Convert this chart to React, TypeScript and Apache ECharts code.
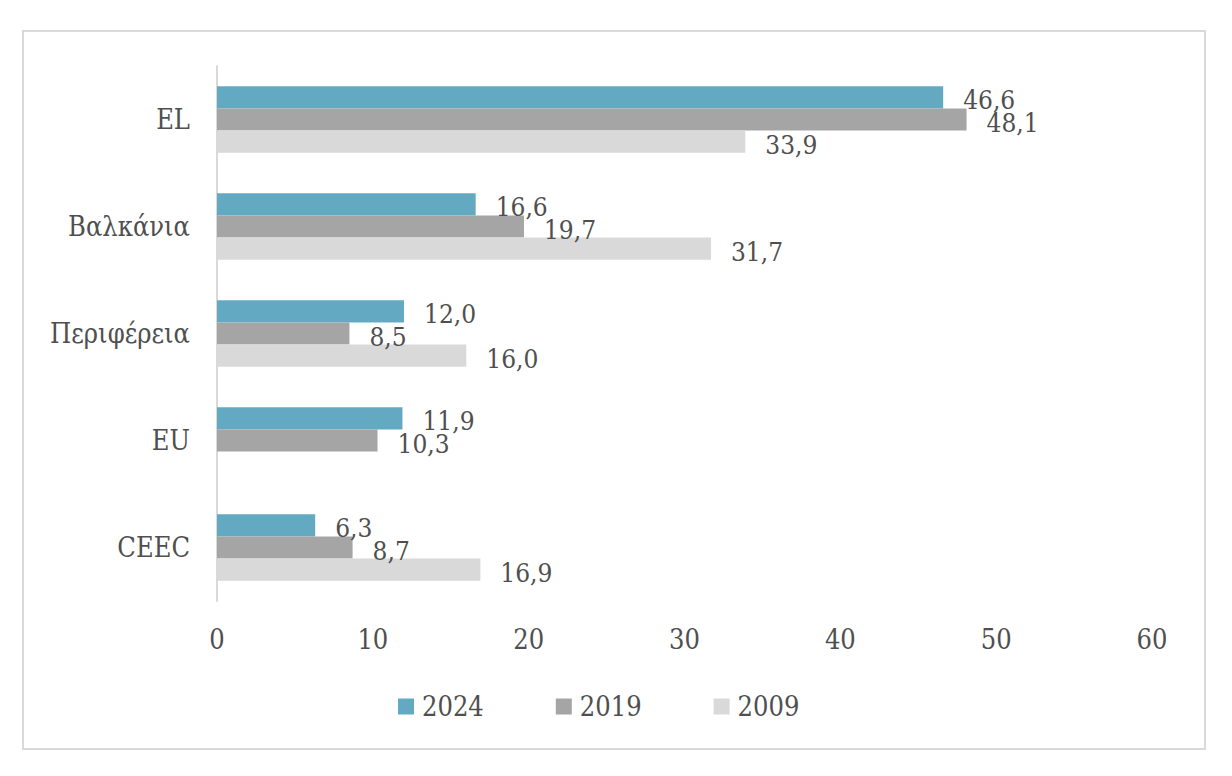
import React, { useEffect, useRef } from "react";
import * as echarts from "echarts";

const categories = ["EL", "Βαλκάνια", "Περιφέρεια", "EU", "CEEC"];
const seriesNames = ["2024", "2019", "2009"];
const values2024 = [46.6, 16.6, 12.0, 11.9, 6.3];
const values2019 = [48.1, 19.7, 8.5, 10.3, 8.7];
const values2009: (number | null)[] = [33.9, 31.7, 16.0, null, 16.9];
const colors = ["#63a9c2", "#a5a5a5", "#d9d9d9"];
const xTicks = { min: 0, max: 60, interval: 10 };

const FONT = "'DejaVu Serif Condensed', 'DejaVu Serif', serif";
const TEXT = "#4f4f4f";

export default function App() {
  const ref = useRef<HTMLDivElement>(null);
  useEffect(() => {
    document.body.style.margin = "0";
    const chart = echarts.init(ref.current!, null, { renderer: "svg" });
    const data = [values2024, values2019, values2009];
    chart.setOption({
      animation: false,
      backgroundColor: "#ffffff",
      textStyle: { fontFamily: FONT, color: TEXT },
      graphic: [
        {
          type: "rect",
          shape: { x: 23, y: 31, width: 1182, height: 718 },
          style: { fill: "none", stroke: "#d9d9d9", lineWidth: 2 },
        },
      ],
      grid: { left: 217, right: 80, top: 66, bottom: 175 },
      legend: {
        left: 393,
        top: 688,
        itemWidth: 16,
        itemHeight: 16,
        itemGap: 72,
        icon: "rect",
        textStyle: { fontFamily: FONT, fontSize: 27, color: TEXT, padding: [0, 0, 0, 3] },
        data: seriesNames,
      },
      xAxis: {
        type: "value",
        min: xTicks.min,
        max: xTicks.max,
        interval: xTicks.interval,
        splitLine: { show: false },
        axisLine: { show: false },
        axisTick: { show: false },
        axisLabel: { fontFamily: FONT, fontSize: 27, color: TEXT, margin: 25 },
      },
      yAxis: {
        type: "category",
        inverse: true,
        data: categories,
        axisLine: { show: true, lineStyle: { color: "#d9d9d9", width: 2 } },
        axisTick: { show: false },
        axisLabel: { fontFamily: FONT, fontSize: 27, color: TEXT, margin: 27 },
      },
      series: seriesNames.map((name, i) => ({
        name,
        type: "bar",
        data: data[i],
        barGap: "0%",
        barCategoryGap: "38%",
        itemStyle: { color: colors[i] },
        label: {
          show: true,
          position: "right",
          distance: 20,
          offset: [0, 3],
          fontFamily: FONT,
          fontSize: 26,
          color: TEXT,
          formatter: (p: any) => (p.value == null ? "" : Number(p.value).toFixed(1).replace(".", ",")),
        },
      })),
    });
    return () => chart.dispose();
  }, []);
  return <div ref={ref} style={{ width: 1232, height: 776 }} />;
}
